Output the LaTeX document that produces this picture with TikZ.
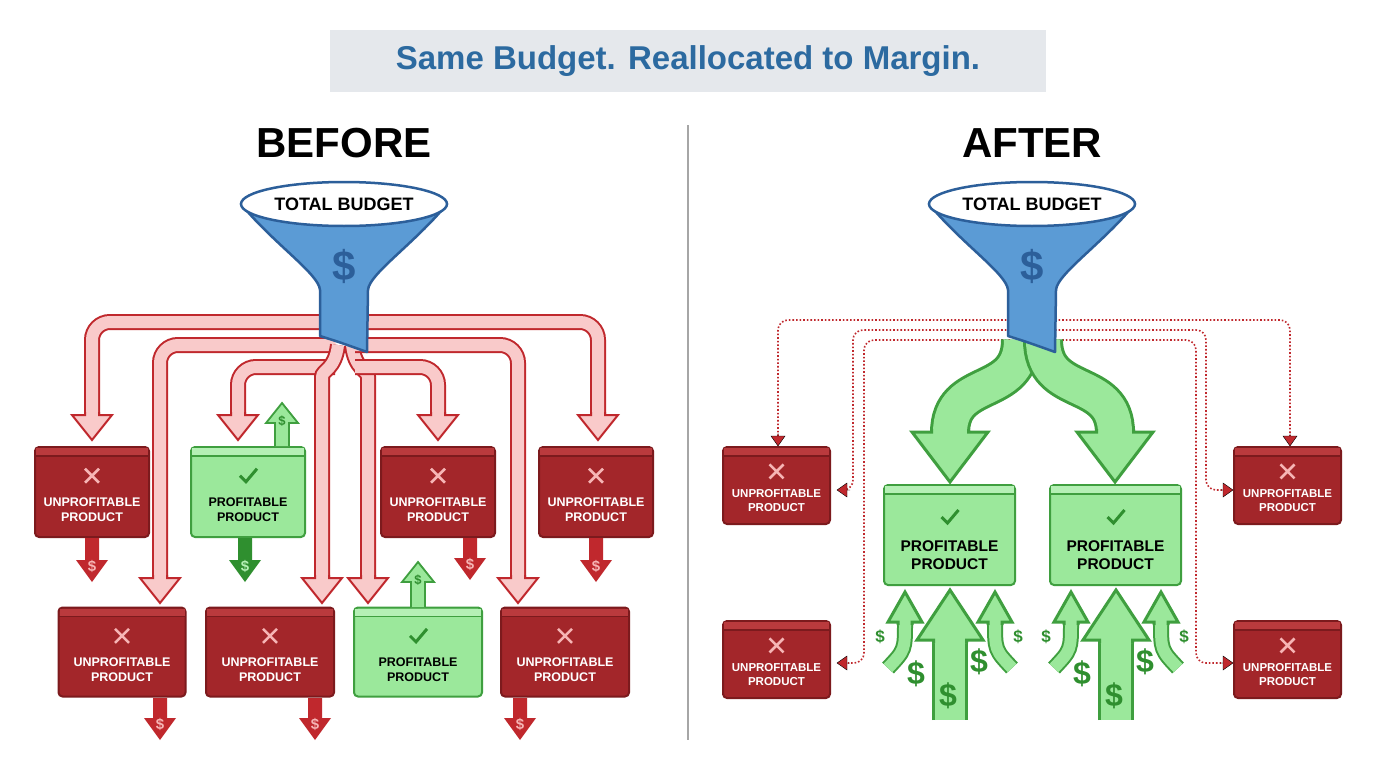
\documentclass[tikz,border=0pt]{standalone}
\usepackage{fontspec}
\setmainfont{Liberation Sans}
\usetikzlibrary{calc}
\definecolor{redfill}{HTML}{A3262A}
\definecolor{redline}{HTML}{7C1A1D}
\definecolor{redlid}{HTML}{BA3A3D}
\definecolor{greenfill}{HTML}{9BE89B}
\definecolor{greenline}{HTML}{3F9F3F}
\definecolor{greenlid}{HTML}{B5F0B5}
\definecolor{arrred}{HTML}{C0282D}
\definecolor{pinkf}{HTML}{F9CACA}
\definecolor{xpink}{HTML}{F6B5B5}
\definecolor{fblue}{HTML}{5B9BD5}
\definecolor{fline}{HTML}{2C5F9A}
\definecolor{titlebg}{HTML}{E5E8EC}
\definecolor{titletx}{HTML}{2C6AA0}
\definecolor{dgreen}{HTML}{2F8F2F}
\newcommand\head[7]{\begin{scope}[shift={(#1,#2)},rotate=#3]
 \filldraw[#4,line join=miter] (-#5,-#7-3)--(-#5,-#7)--(-#6,-#7)--(0,0)--(#6,-#7)--(#5,-#7)--(#5,-#7-3);\end{scope}}
\newcommand\ubox[6]{%
 \node[draw=redline, fill=redfill, line width=2pt, rounded corners=4pt, minimum width=#4pt, minimum height=#5pt, inner sep=0] (#1) at (#2,#3) {};
 \fill[redlid] ([shift={(2,2)}]#1.north west) rectangle ([shift={(-2,10)}]#1.north east);
 \draw[redline, line width=1.2pt] ([shift={(1,10)}]#1.north west) -- ([shift={(-1,10)}]#1.north east);
 \draw[xpink, line width=2.6pt] ($(#1.north)+(-7,{0.33*#5-7})$) -- ++(14,14) ($(#1.north)+(7,{0.33*#5-7})$) -- ++(-14,14);
 \node[font=\bfseries\fontsize{#6}{\dimexpr#6pt*6/5\relax}\selectfont, text=white, align=center] at ($(#1.center)+(0,{0.2*#5})$) {UNPROFITABLE\\PRODUCT};}
\newcommand\gbox[6]{%
 \node[draw=greenline, fill=greenfill, line width=2pt, rounded corners=4pt, minimum width=#4pt, minimum height=#5pt, inner sep=0] (#1) at (#2,#3) {};
 \fill[greenlid] ([shift={(2,2)}]#1.north west) rectangle ([shift={(-2,10)}]#1.north east);
 \draw[greenline, line width=1.2pt] ([shift={(1,10)}]#1.north west) -- ([shift={(-1,10)}]#1.north east);
 \draw[dgreen, line width=3pt] ($(#1.north)+(-8,{0.33*#5})$) -- ++(6,6) -- ++(11,-13);
 \node[font=\bfseries\fontsize{#6}{\dimexpr#6pt*6/5\relax}\selectfont, text=black, align=center] at ($(#1.center)+(0,{0.2*#5})$) {PROFITABLE\\PRODUCT};}
\newcommand\sarrow[5]{\fill[#4] (#1-7,#2) -- (#1+7,#2) -- (#1+7,#3-22) -- (#1+16,#3-22) -- (#1,#3) -- (#1-16,#3-22) -- (#1-7,#3-22) -- cycle;
 \node[font=\bfseries\fontsize{15}{15}\selectfont, text=#5] at (#1,#3-16) {\$};}
\newcommand\garrow[3]{\filldraw[fill=greenfill, draw=greenline, line width=1.8pt, line join=miter] (#1-7,#2) -- (#1-7,#3+20) -- (#1-16,#3+20) -- (#1,#3) -- (#1+16,#3+20) -- (#1+7,#3+20) -- (#1+7,#2);
 \node[font=\bfseries\fontsize{13}{13}\selectfont, text=dgreen] at (#1,#3+18) {\$};}
\newcommand\funnel[2]{%
 \filldraw[fill=fblue, draw=fline, line width=2.5pt, line join=round] (#1-103,#2) .. controls (#1-70,#2+40) and (#1-25,#2+70) .. (#1-24,#2+86) -- (#1-24,#2+132) .. controls (#1-5,#2+138) .. (#1+23,#2+148) -- (#1+24,#2+86) .. controls (#1+25,#2+70) and (#1+70,#2+40) .. (#1+103,#2) -- cycle;
 \filldraw[fill=white, draw=fline, line width=2.5pt] (#1,#2) ellipse [x radius=103, y radius=22];
 \node[font=\bfseries\fontsize{18}{18}\selectfont] at (#1,#2) {TOTAL BUDGET};
 \node[font=\bfseries\fontsize{42}{42}\selectfont, text=fline] at (#1,#2+62) {\$};}
\tikzset{pk/.style={draw=arrred, line width=2pt, double=pinkf, double distance=12pt, rounded corners=18pt, line cap=butt},
 pkh/.style={fill=pinkf, draw=arrred, line width=2pt},
 gb/.style={draw=greenline, line width=3pt, double=greenfill, double distance=34pt, line cap=butt},
 gbs/.style={draw=greenline, line width=2pt, double=greenfill, double distance=12pt, line cap=butt},
 gh/.style={fill=greenfill, draw=greenline, line width=3pt},
 dt/.style={draw=arrred, line width=1.6pt, dotted, rounded corners=10pt},
 dth/.style={fill=arrred}}
\begin{document}
\begin{tikzpicture}[x=1pt,y=-1pt]
\useasboundingbox (0,0) rectangle (1376,768);
\fill[white] (0,0) rectangle (1376,768);
\node[fill=titlebg, minimum width=716pt, minimum height=62pt, font=\bfseries\fontsize{33}{33}\selectfont, text=titletx] (title) at (688,61) {Same Budget. Reallocated to Margin.};
\draw[gray!70, line width=1.5pt] (688,125) -- (688,740);
\node[font=\bfseries\fontsize{42}{42}\selectfont] (before) at (344,143) {BEFORE};
\node[font=\bfseries\fontsize{42}{42}\selectfont] (after) at (1032,143) {AFTER};
% ---------- BEFORE arrows
\draw[pk] (335,322) -- (92,322) -- (92,417); \head{92}{440}{0}{pkh}{7}{20}{25}
\draw[pk] (335,345) -- (160,345) -- (160,580); \head{160}{603}{0}{pkh}{7}{20}{25}
\draw[pk] (335,367) -- (238,367) -- (238,417); \head{238}{440}{0}{pkh}{7}{20}{25}
\draw[pk] (338,345) .. controls (335,370) and (322,370) .. (322,395) -- (322,580); \head{322}{603}{0}{pkh}{7}{20}{25}
\draw[pk] (352,345) .. controls (355,370) and (368,370) .. (368,395) -- (368,580); \head{368}{603}{0}{pkh}{7}{20}{25}
\draw[pk] (355,367) -- (438,367) -- (438,417); \head{438}{440}{0}{pkh}{7}{20}{25}
\draw[pk] (355,345) -- (518,345) -- (518,580); \head{518}{603}{0}{pkh}{7}{20}{25}
\draw[pk] (355,322) -- (598,322) -- (598,417); \head{598}{440}{0}{pkh}{7}{20}{25}
\funnel{344}{204}
\ubox{b1}{92}{492}{114}{90}{12.5}
\gbox{b2}{248}{492}{114}{90}{12.5}
\ubox{b3}{438}{492}{114}{90}{12.5}
\ubox{b4}{596}{492}{114}{90}{12.5}
\ubox{b5}{122}{652}{127}{89}{12.5}
\ubox{b6}{270}{652}{128}{89}{12.5}
\gbox{b7}{418}{652}{128}{89}{12.5}
\ubox{b8}{565}{652}{128}{89}{12.5}
\sarrow{92}{538}{582}{arrred}{xpink}
\sarrow{470}{538}{580}{arrred}{xpink}
\sarrow{596}{538}{582}{arrred}{xpink}
\sarrow{245}{538}{582}{dgreen}{greenlid}
\sarrow{160}{698}{740}{arrred}{xpink}
\sarrow{315}{698}{740}{arrred}{xpink}
\sarrow{520}{698}{740}{arrred}{xpink}
\garrow{282}{446}{403}
\garrow{418}{607}{562}
% ---------- AFTER
\draw[dt] (1010,320) -- (778,320) -- (778,436); \head{778}{446}{0}{dth}{0}{7}{10}
\draw[dt] (1010,330) -- (853,330) -- (853,490) -- (848,490); \head{837}{490}{-90}{dth}{0}{7}{10}
\draw[dt] (1010,340) -- (864,340) -- (864,663) -- (848,663); \head{837}{663}{-90}{dth}{0}{7}{10}
\draw[dt] (1055,320) -- (1290,320) -- (1290,436); \head{1290}{446}{0}{dth}{0}{7}{10}
\draw[dt] (1055,330) -- (1206,330) -- (1206,490) -- (1222,490); \head{1233}{490}{90}{dth}{0}{7}{10}
\draw[dt] (1055,340) -- (1196,340) -- (1196,663) -- (1222,663); \head{1233}{663}{90}{dth}{0}{7}{10}
\draw[gb] (1021,340) .. controls (1021,400) and (950,375) .. (950,433); \head{950}{482}{0}{gh}{18.5}{38}{50}
\draw[gb] (1043,340) .. controls (1043,400) and (1115,375) .. (1115,433); \head{1115}{482}{0}{gh}{18.5}{38}{50}
\funnel{1032}{204}
\ubox{a1}{776.5}{485.5}{107}{77}{11.5}
\ubox{a2}{776.5}{659.5}{107}{77}{11.5}
\ubox{a3}{1287.5}{485.5}{107}{77}{11.5}
\ubox{a4}{1287.5}{659.5}{107}{77}{11.5}
\gbox{g1}{949.5}{535}{131}{100}{15.5}
\gbox{g2}{1115.5}{535}{131}{100}{15.5}
\foreach \dx in {0,166}{
 \begin{scope}[xshift=\dx pt]
 \draw[gb, double distance=30pt] (950,720) -- (950,638); \head{950}{590}{180}{gh}{16.5}{33}{50}
 \draw[gbs] (888,668) .. controls (905,650) .. (905,622); \head{905}{592}{180}{gh}{7}{17}{30}
 \draw[gbs] (1012,668) .. controls (995,650) .. (995,622); \head{995}{592}{180}{gh}{7}{17}{30}
 \node[font=\bfseries\fontsize{17}{17}\selectfont, text=dgreen] at (880,637) {\$};
 \node[font=\bfseries\fontsize{17}{17}\selectfont, text=dgreen] at (1018,637) {\$};
 \node[font=\bfseries\fontsize{32}{32}\selectfont, text=dgreen] at (916,674) {\$};
 \node[font=\bfseries\fontsize{32}{32}\selectfont, text=dgreen] at (979,662) {\$};
 \node[font=\bfseries\fontsize{32}{32}\selectfont, text=dgreen] at (948,696) {\$};
 \end{scope}}
\end{tikzpicture}
\end{document}
